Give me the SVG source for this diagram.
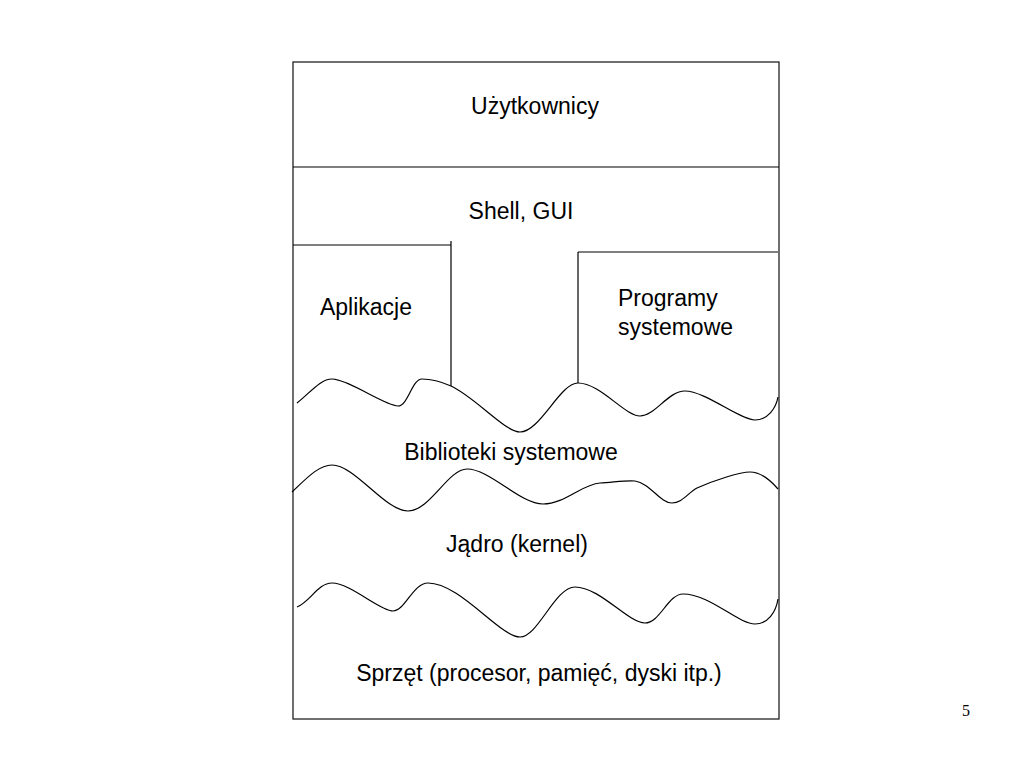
<svg xmlns="http://www.w3.org/2000/svg" width="1023" height="767" viewBox="0 0 1023 767">
<style>
.t{font-family:"Liberation Sans",Arial,sans-serif;font-size:23px;fill:#000}
.ln{fill:none;stroke:#000;stroke-width:1.2}
</style>
<rect width="1023" height="767" fill="#fff"/>
<g id="frame">
<rect x="293" y="62" width="486" height="657" fill="none" stroke="#222" stroke-width="1.3"/>
<line x1="293" y1="167" x2="779" y2="167" class="ln"/>
</g>
<g id="uzytkownicy"><text class="t" x="535" y="114" text-anchor="middle">Użytkownicy</text></g>
<g id="shell"><text class="t" x="521" y="219" text-anchor="middle">Shell, GUI</text></g>
<g id="aplikacje">
<polyline class="ln" points="293,245 451,245"/>
<line class="ln" x1="451" y1="241" x2="451" y2="386"/>
<text class="t" x="366" y="315" text-anchor="middle">Aplikacje</text>
</g>
<g id="programy">
<polyline class="ln" points="578,252 778,252"/>
<line class="ln" x1="578" y1="252" x2="578" y2="383"/>
<text class="t" x="618" y="306">Programy</text>
<text class="t" x="618" y="335">systemowe</text>
</g>
<g id="connectors">
<path class="ln" d="M297,403 C310,393 320,379 332,379 C348,379 385,406 398,406 C408,406 412,379 422,379 C432,379 442,382 451,386 C475,397 505,432 520,432 C540,432 560,383 578,383 C600,383 625,416 640,416 C655,416 668,391 685,391 C705,391 740,420 755,420 C768,420 776,408 778,397"/>
<path class="ln" d="M292,492 C305,480 318,465 332,465 C355,465 385,511 408,511 C430,511 448,469 467,469 C490,469 520,504 543,504 C565,504 582,484 600,483 C615,482 628,480 635,481 C650,483 660,503 672,503 C682,503 688,493 697,488 C715,480 740,472 750,472 C762,472 772,482 778,489"/>
<path class="ln" d="M297,607 C310,602 318,583 332,583 C350,583 380,611 393,611 C405,611 413,583 428,583 C460,583 500,637 520,637 C538,637 555,587 575,587 C600,587 628,623 645,623 C660,623 668,594 683,594 C710,594 738,624 755,624 C768,624 776,612 778,599"/>
</g>
<g id="biblioteki"><text class="t" x="511" y="460" text-anchor="middle">Biblioteki systemowe</text></g>
<g id="jadro"><text class="t" x="517" y="552" text-anchor="middle">Jądro (kernel)</text></g>
<g id="sprzet"><text class="t" x="539" y="681" text-anchor="middle">Sprzęt (procesor, pamięć, dyski itp.)</text></g>
<g id="page"><text x="966" y="716" text-anchor="middle" style="font-family:'Liberation Serif','Times New Roman',serif;font-size:16px">5</text></g>
</svg>
